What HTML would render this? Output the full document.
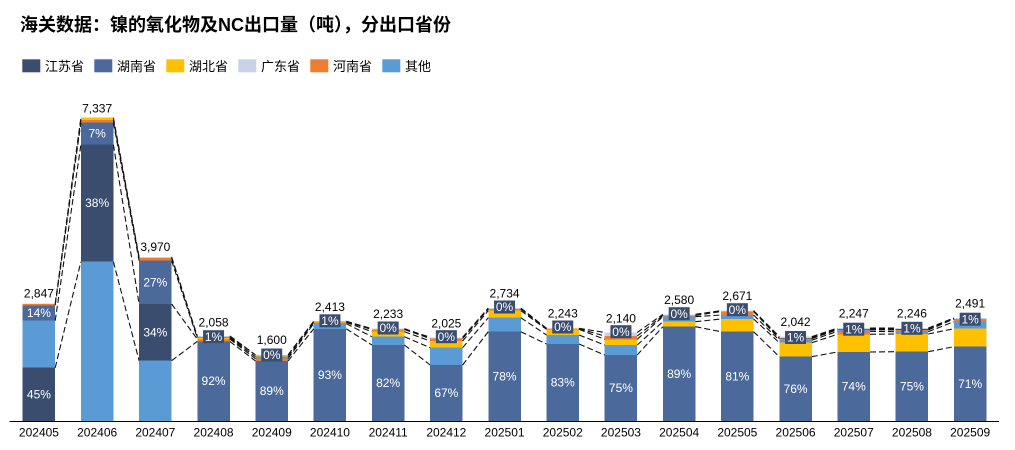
<!DOCTYPE html>
<html><head><meta charset="utf-8">
<style>
html,body{margin:0;padding:0;background:#fff;}
svg{display:block;}
.t{font-family:"Liberation Sans","Noto Sans CJK SC",sans-serif;}
</style></head>
<body>
<svg width="1015" height="450" viewBox="0 0 1015 450" xmlns="http://www.w3.org/2000/svg" class="t">
<rect width="1015" height="450" fill="#fff"/>
<text x="20" y="31" font-size="18" font-weight="bold" fill="#000" font-family="Liberation Sans, Noto Sans CJK SC, sans-serif">海关数据：镍的氧化物及NC出口量（吨），分出口省份</text>

<g font-size="13" fill="#000" font-family="Liberation Sans, Noto Sans CJK SC, sans-serif">
<rect x="22.3" y="59.3" width="18" height="13" fill="#3A4D6F"/><text x="45" y="71">江苏省</text>
<rect x="94.3" y="59.3" width="18" height="13" fill="#4B6A9B"/><text x="117" y="71">湖南省</text>
<rect x="166.3" y="59.3" width="18" height="13" fill="#FFC000"/><text x="189" y="71">湖北省</text>
<rect x="238.3" y="59.3" width="18" height="13" fill="#C9D3E6"/><text x="261" y="71">广东省</text>
<rect x="310.3" y="59.3" width="18" height="13" fill="#ED7D31"/><text x="333" y="71">河南省</text>
<rect x="382.3" y="59.3" width="18" height="13" fill="#5B9BD5"/><text x="405" y="71">其他</text>
</g>

<!-- bars -->
<g shape-rendering="crispEdges">
<!-- 0 -->
<rect x="22.7" y="367.7" width="32.5" height="53.3" fill="#3A4D6F"/>
<rect x="22.7" y="320.7" width="32.5" height="47" fill="#5B9BD5"/>
<rect x="22.7" y="305.3" width="32.5" height="15.4" fill="#4B6A9B"/>
<rect x="22.7" y="303.9" width="32.5" height="1.4" fill="#ED7D31"/>
<rect x="22.7" y="303.3" width="32.5" height="0.6" fill="#C9D3E6"/>
<!-- 1 -->
<rect x="80.9" y="261.7" width="32.5" height="159.3" fill="#5B9BD5"/>
<rect x="80.9" y="144.7" width="32.5" height="117" fill="#3A4D6F"/>
<rect x="80.9" y="122.7" width="32.5" height="22" fill="#4B6A9B"/>
<rect x="80.9" y="120" width="32.5" height="2.7" fill="#ED7D31"/>
<rect x="80.9" y="117.7" width="32.5" height="2.3" fill="#FFC000"/>
<!-- 2 -->
<rect x="139.1" y="360.7" width="32.5" height="60.3" fill="#5B9BD5"/>
<rect x="139.1" y="304" width="32.5" height="56.7" fill="#3A4D6F"/>
<rect x="139.1" y="260.7" width="32.5" height="43.3" fill="#4B6A9B"/>
<rect x="139.1" y="257.9" width="32.5" height="2.8" fill="#ED7D31"/>
<rect x="139.1" y="256.9" width="32.5" height="1" fill="#C9D3E6"/>
<!-- 3 -->
<rect x="197.3" y="341.4" width="32.5" height="79.6" fill="#4B6A9B"/>
<rect x="197.3" y="339.1" width="32.5" height="2.3" fill="#ED7D31"/>
<rect x="197.3" y="338.1" width="32.5" height="1" fill="#FFC000"/>
<rect x="197.3" y="336.9" width="32.5" height="1.2" fill="#5B9BD5"/>
<rect x="197.3" y="335.9" width="32.5" height="1" fill="#C9D3E6"/>
<!-- 4 -->
<rect x="255.5" y="361" width="32.5" height="60" fill="#4B6A9B"/>
<rect x="255.5" y="358.7" width="32.5" height="2.3" fill="#ED7D31"/>
<rect x="255.5" y="356.7" width="32.5" height="2" fill="#5B9BD5"/>
<rect x="255.5" y="354.9" width="32.5" height="1.8" fill="#FFC000"/>
<!-- 5 -->
<rect x="313.7" y="328.8" width="32.5" height="92.2" fill="#4B6A9B"/>
<rect x="313.7" y="323.6" width="32.5" height="5.2" fill="#5B9BD5"/>
<rect x="313.7" y="322.4" width="32.5" height="1.2" fill="#ED7D31"/>
<rect x="313.7" y="321.2" width="32.5" height="1.2" fill="#FFC000"/>
<!-- 6 -->
<rect x="371.9" y="345" width="32.5" height="76" fill="#4B6A9B"/>
<rect x="371.9" y="336.7" width="32.5" height="8.3" fill="#5B9BD5"/>
<rect x="371.9" y="331.7" width="32.5" height="5" fill="#FFC000"/>
<rect x="371.9" y="329.5" width="32.5" height="2.2" fill="#ED7D31"/>
<rect x="371.9" y="328.7" width="32.5" height="0.8" fill="#C9D3E6"/>
<!-- 7 -->
<rect x="430.1" y="365" width="32.5" height="56" fill="#4B6A9B"/>
<rect x="430.1" y="347.7" width="32.5" height="17.3" fill="#5B9BD5"/>
<rect x="430.1" y="341" width="32.5" height="6.7" fill="#FFC000"/>
<rect x="430.1" y="338.5" width="32.5" height="2.5" fill="#ED7D31"/>
<rect x="430.1" y="337.3" width="32.5" height="1.2" fill="#C9D3E6"/>
<!-- 8 -->
<rect x="488.3" y="331.7" width="32.5" height="89.3" fill="#4B6A9B"/>
<rect x="488.3" y="317.7" width="32.5" height="14" fill="#5B9BD5"/>
<rect x="488.3" y="310.7" width="32.5" height="7" fill="#FFC000"/>
<rect x="488.3" y="309.1" width="32.5" height="1.6" fill="#ED7D31"/>
<rect x="488.3" y="308" width="32.5" height="1.1" fill="#C9D3E6"/>
<!-- 9 -->
<rect x="546.5" y="344" width="32.5" height="77" fill="#4B6A9B"/>
<rect x="546.5" y="335" width="32.5" height="9" fill="#5B9BD5"/>
<rect x="546.5" y="329.3" width="32.5" height="5.7" fill="#FFC000"/>
<rect x="546.5" y="328.7" width="32.5" height="0.6" fill="#ED7D31"/>
<rect x="546.5" y="328.3" width="32.5" height="0.4" fill="#C9D3E6"/>
<!-- 10 -->
<rect x="604.7" y="355" width="32.5" height="66" fill="#4B6A9B"/>
<rect x="604.7" y="345" width="32.5" height="10" fill="#5B9BD5"/>
<rect x="604.7" y="339.3" width="32.5" height="5.7" fill="#FFC000"/>
<rect x="604.7" y="336" width="32.5" height="3.3" fill="#ED7D31"/>
<rect x="604.7" y="332.5" width="32.5" height="3.5" fill="#C9D3E6"/>
<!-- 11 -->
<rect x="662.9" y="326.7" width="32.5" height="94.3" fill="#4B6A9B"/>
<rect x="662.9" y="321.7" width="32.5" height="5" fill="#FFC000"/>
<rect x="662.9" y="316.7" width="32.5" height="5" fill="#5B9BD5"/>
<rect x="662.9" y="315.5" width="32.5" height="1.2" fill="#ED7D31"/>
<rect x="662.9" y="314.3" width="32.5" height="1.2" fill="#C9D3E6"/>
<!-- 12 -->
<rect x="721.1" y="331.7" width="32.5" height="89.3" fill="#4B6A9B"/>
<rect x="721.1" y="319" width="32.5" height="12.7" fill="#FFC000"/>
<rect x="721.1" y="315" width="32.5" height="4" fill="#5B9BD5"/>
<rect x="721.1" y="311.5" width="32.5" height="3.5" fill="#ED7D31"/>
<rect x="721.1" y="310.6" width="32.5" height="0.9" fill="#C9D3E6"/>
<!-- 13 -->
<rect x="779.3" y="356.7" width="32.5" height="64.3" fill="#4B6A9B"/>
<rect x="779.3" y="342.7" width="32.5" height="14" fill="#FFC000"/>
<rect x="779.3" y="340.2" width="32.5" height="2.5" fill="#5B9BD5"/>
<rect x="779.3" y="338.6" width="32.5" height="1.6" fill="#ED7D31"/>
<rect x="779.3" y="337.8" width="32.5" height="0.8" fill="#3A4D6F"/>
<rect x="779.3" y="336.6" width="32.5" height="1.2" fill="#C9D3E6"/>
<!-- 14 -->
<rect x="837.5" y="352" width="32.5" height="69" fill="#4B6A9B"/>
<rect x="837.5" y="334.3" width="32.5" height="17.7" fill="#FFC000"/>
<rect x="837.5" y="331.3" width="32.5" height="3" fill="#ED7D31"/>
<rect x="837.5" y="329.7" width="32.5" height="1.6" fill="#5B9BD5"/>
<rect x="837.5" y="328.8" width="32.5" height="0.9" fill="#3A4D6F"/>
<rect x="837.5" y="328.1" width="32.5" height="0.7" fill="#C9D3E6"/>
<!-- 15 -->
<rect x="895.7" y="351.7" width="32.5" height="69.3" fill="#4B6A9B"/>
<rect x="895.7" y="334" width="32.5" height="17.7" fill="#FFC000"/>
<rect x="895.7" y="331.7" width="32.5" height="2.3" fill="#5B9BD5"/>
<rect x="895.7" y="330" width="32.5" height="1.7" fill="#ED7D31"/>
<rect x="895.7" y="329.1" width="32.5" height="0.9" fill="#3A4D6F"/>
<rect x="895.7" y="328.1" width="32.5" height="1" fill="#C9D3E6"/>
<!-- 16 -->
<rect x="953.9" y="346.7" width="32.5" height="74.3" fill="#4B6A9B"/>
<rect x="953.9" y="328.7" width="32.5" height="18" fill="#FFC000"/>
<rect x="953.9" y="321.7" width="32.5" height="7" fill="#5B9BD5"/>
<rect x="953.9" y="319" width="32.5" height="2.7" fill="#ED7D31"/>
<rect x="953.9" y="318" width="32.5" height="1" fill="#C9D3E6"/>
</g>

<!-- series lines -->
<g fill="none" stroke="#111" stroke-width="1.1" stroke-dasharray="6,3">
<path d="M55.2 367.7L80.9 261.7M55.2 320.7L80.9 144.7M55.2 305.3L80.9 122.7M55.2 303.9L80.9 120M55.2 303.3L80.9 117.7"/>
<path d="M113.4 261.7L139.1 360.7M113.4 144.7L139.1 304M113.4 122.7L139.1 260.7M113.4 120L139.1 257.9M113.4 117.7L139.1 256.9"/>
<path d="M171.6 360.7L197.3 341.4M171.6 304L197.3 339.1M171.6 260.7L197.3 338.1M171.6 257.9L197.3 336.9M171.6 256.9L197.3 336.3M171.6 256.9L197.3 335.9"/>
<path d="M229.8 341.4L255.5 361M229.8 339.1L255.5 358.7M229.8 338.1L255.5 356.7M229.8 336.9L255.5 354.9M229.8 336.3L255.5 354.9M229.8 335.9L255.5 354.9"/>
<path d="M288 361L313.7 328.8M288 358.7L313.7 323.6M288 356.7L313.7 322.4M288 354.9L313.7 321.7M288 354.9L313.7 321.2"/>
<path d="M346.2 328.8L371.9 345M346.2 323.6L371.9 336.7M346.2 322.4L371.9 331.7M346.2 321.7L371.9 329.5M346.2 321.2L371.9 328.7"/>
<path d="M404.4 345L430.1 365M404.4 336.7L430.1 347.7M404.4 331.7L430.1 341M404.4 329.5L430.1 338.5M404.4 328.7L430.1 337.3"/>
<path d="M462.6 365L488.3 331.7M462.6 347.7L488.3 317.7M462.6 341L488.3 310.7M462.6 338.5L488.3 309.1M462.6 337.3L488.3 308"/>
<path d="M520.8 331.7L546.5 344M520.8 317.7L546.5 335M520.8 310.7L546.5 329.3M520.8 309.1L546.5 328.7M520.8 308L546.5 328.3"/>
<path d="M579 344L604.7 355M579 335L604.7 345M579 329.3L604.7 339.3M579 328.7L604.7 336M579 328.3L604.7 332.5"/>
<path d="M637.2 355L662.9 326.7M637.2 345L662.9 321.7M637.2 339.3L662.9 316.7M637.2 336L662.9 315.5M637.2 332.5L662.9 314.3"/>
<path d="M695.4 326.7L721.1 331.7M695.4 321.7L721.1 319M695.4 316.7L721.1 315M695.4 315.5L721.1 311.5M695.4 314.3L721.1 310.6"/>
<path d="M753.6 331.7L779.3 356.7M753.6 319L779.3 342.7M753.6 315L779.3 340.2M753.6 311.5L779.3 338.6M753.6 310.6L779.3 337.8M753.6 310.6L779.3 336.6"/>
<path d="M811.8 356.7L837.5 352M811.8 342.7L837.5 334.3M811.8 340.2L837.5 331.3M811.8 338.6L837.5 329.7M811.8 337.8L837.5 328.8M811.8 336.6L837.5 328.1"/>
<path d="M870 352L895.7 351.7M870 334.3L895.7 334M870 331.3L895.7 331.7M870 329.7L895.7 330M870 328.8L895.7 329.1M870 328.1L895.7 328.1"/>
<path d="M928.2 351.7L953.9 346.7M928.2 334L953.9 328.7M928.2 331.7L953.9 321.7M928.2 330L953.9 319M928.2 329.1L953.9 318.3M928.2 328.1L953.9 318"/>
</g>

<!-- axis -->
<line x1="9.5" y1="421.5" x2="999" y2="421.5" stroke="#000" stroke-width="1"/>

<!-- dark label boxes -->
<g fill="#3A4D6F">
<rect x="203.05" y="330.2" width="21" height="13"/>
<rect x="261.25" y="348.5" width="21" height="13"/>
<rect x="319.45" y="314.3" width="21" height="13"/>
<rect x="377.65" y="321.5" width="21" height="13"/>
<rect x="435.85" y="330.2" width="21" height="13"/>
<rect x="494.05" y="300.5" width="21" height="13"/>
<rect x="552.25" y="320.5" width="21" height="13"/>
<rect x="610.45" y="325.2" width="21" height="13"/>
<rect x="668.65" y="307.2" width="21" height="13"/>
<rect x="726.85" y="303.2" width="21" height="13"/>
<rect x="785.05" y="331" width="21" height="13"/>
<rect x="843.25" y="322.7" width="21" height="13"/>
<rect x="901.45" y="321.8" width="21" height="13"/>
<rect x="959.65" y="312.7" width="21" height="13"/>
</g>

<!-- white percent labels -->
<g fill="#fff" font-size="12" text-anchor="middle" font-family="Liberation Sans, sans-serif">
<text x="38.95" y="398.4">45%</text>
<text x="38.95" y="317">14%</text>
<text x="97.15" y="207.2">38%</text>
<text x="97.15" y="137.7">7%</text>
<text x="155.35" y="336.3">34%</text>
<text x="155.35" y="286.3">27%</text>
<text x="213.55" y="385.2">92%</text>
<text x="271.75" y="395">89%</text>
<text x="329.95" y="378.9">93%</text>
<text x="388.15" y="387">82%</text>
<text x="446.35" y="397">67%</text>
<text x="504.55" y="380.4">78%</text>
<text x="562.75" y="386.5">83%</text>
<text x="620.95" y="392">75%</text>
<text x="679.15" y="377.9">89%</text>
<text x="737.35" y="380.4">81%</text>
<text x="795.55" y="392.9">76%</text>
<text x="853.75" y="390.5">74%</text>
<text x="911.95" y="390.4">75%</text>
<text x="970.15" y="387.9">71%</text>

<text x="213.55" y="340.9">1%</text>
<text x="271.75" y="359.2">0%</text>
<text x="329.95" y="325">1%</text>
<text x="388.15" y="332.2">0%</text>
<text x="446.35" y="340.9">0%</text>
<text x="504.55" y="311.2">0%</text>
<text x="562.75" y="331.2">0%</text>
<text x="620.95" y="335.9">0%</text>
<text x="679.15" y="317.9">0%</text>
<text x="737.35" y="313.9">0%</text>
<text x="795.55" y="341.7">1%</text>
<text x="853.75" y="333.4">1%</text>
<text x="911.95" y="332.5">1%</text>
<text x="970.15" y="323.4">1%</text>
</g>

<!-- totals -->
<g fill="#000" font-size="12" text-anchor="middle" font-family="Liberation Sans, sans-serif">
<text x="38.95" y="297.5">2,847</text>
<text x="97.15" y="112.5">7,337</text>
<text x="155.35" y="251.2">3,970</text>
<text x="213.55" y="326.4">2,058</text>
<text x="271.75" y="344.2">1,600</text>
<text x="329.95" y="310.9">2,413</text>
<text x="388.15" y="318.2">2,233</text>
<text x="446.35" y="327.5">2,025</text>
<text x="504.55" y="297.5">2,734</text>
<text x="562.75" y="317.5">2,243</text>
<text x="620.95" y="322.5">2,140</text>
<text x="679.15" y="304.2">2,580</text>
<text x="737.35" y="300.2">2,671</text>
<text x="795.55" y="325.9">2,042</text>
<text x="853.75" y="317.5">2,247</text>
<text x="911.95" y="317.5">2,246</text>
<text x="970.15" y="307.5">2,491</text>
</g>

<!-- x axis labels -->
<g fill="#000" font-size="12" text-anchor="middle" font-family="Liberation Sans, sans-serif">
<text x="38.95" y="436.3">202405</text>
<text x="97.15" y="436.3">202406</text>
<text x="155.35" y="436.3">202407</text>
<text x="213.55" y="436.3">202408</text>
<text x="271.75" y="436.3">202409</text>
<text x="329.95" y="436.3">202410</text>
<text x="388.15" y="436.3">202411</text>
<text x="446.35" y="436.3">202412</text>
<text x="504.55" y="436.3">202501</text>
<text x="562.75" y="436.3">202502</text>
<text x="620.95" y="436.3">202503</text>
<text x="679.15" y="436.3">202504</text>
<text x="737.35" y="436.3">202505</text>
<text x="795.55" y="436.3">202506</text>
<text x="853.75" y="436.3">202507</text>
<text x="911.95" y="436.3">202508</text>
<text x="970.15" y="436.3">202509</text>
</g>
</svg>
</body></html>
